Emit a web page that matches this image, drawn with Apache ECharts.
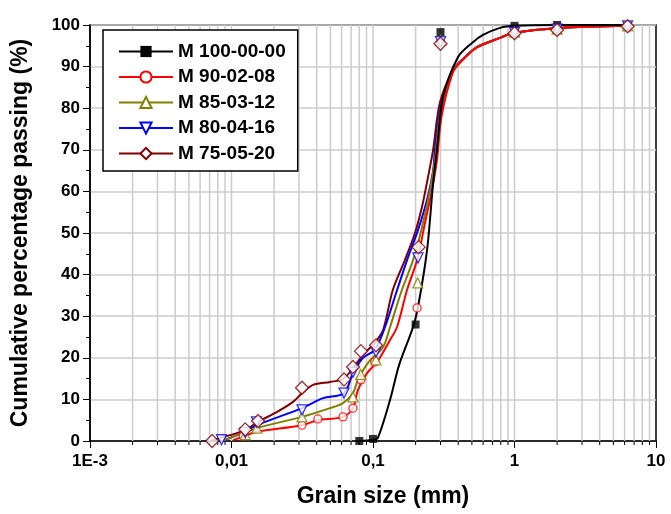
<!DOCTYPE html>
<html>
<head>
<meta charset="utf-8">
<script src="https://cdn.jsdelivr.net/npm/echarts@6/dist/echarts.min.js"></script>
<style>
  html, body { margin: 0; padding: 0; background: #fff; }
  #chart { width: 671px; height: 514px; }
</style>
</head>
<body>
<div id="chart"></div>
<script>
// tick labels of the log x axis, one per decade from 1E-3 to 10
var xTickLabels = ['1E-3', '0,01', '0,1', '1', '10'];

var names = ['M 100-00-00', 'M 90-02-08', 'M 85-03-12', 'M 80-04-16', 'M 75-05-20'];
var colors = ['#000000', '#ff0000', '#808000', '#0000ff', '#800000'];

// fitted curves [grain size mm, % passing]
var curveM100 = [[0.08, 0], [0.1, 0.3], [0.108, 0.7], [0.132, 9.9], [0.153, 18.3], [0.192, 27.4], [0.208, 32.2],
  [0.241, 45.9], [0.266, 62], [0.283, 70], [0.313, 82.7], [0.399, 92.3], [0.501, 95.7], [0.599, 97.6],
  [0.79, 99.3], [1, 99.8], [2, 100], [6.3, 100]];
var curveM90 = [[0.0103, 0.2], [0.0124, 1.2], [0.0151, 2.2], [0.0315, 3.8], [0.0408, 5], [0.0614, 5.8],
  [0.0722, 7.9], [0.0783, 12.3], [0.0907, 16.3], [0.107, 19], [0.132, 24.3], [0.148, 27.4], [0.174, 36.3],
  [0.205, 43.5], [0.233, 52.4], [0.261, 60.3], [0.283, 67.5], [0.305, 78], [0.367, 88.6], [0.425, 91.4],
  [0.543, 94.6], [0.79, 96.9], [0.976, 98.1], [2.1, 99.3], [6.3, 99.8]];
var curveM85 = [[0.0086, 0], [0.0151, 3.1], [0.0315, 5.8], [0.0497, 7.9], [0.0614, 9.1], [0.0722, 11.5],
  [0.0783, 14.7], [0.0923, 18.8], [0.118, 22.6], [0.132, 27.4], [0.16, 36.3], [0.192, 43.5], [0.222, 51.4],
  [0.253, 60.3], [0.274, 67.5], [0.3, 79], [0.367, 89], [0.425, 91.5], [0.543, 94.7], [0.79, 96.9],
  [0.976, 98.1], [2.1, 99.3], [6.3, 99.8]];
var curveM80 = [[0.0086, 0], [0.0124, 2.2], [0.0151, 3.8], [0.0315, 7.9], [0.0444, 10.3], [0.0624, 11.5],
  [0.0722, 16.3], [0.085, 20], [0.103, 21.9], [0.1216, 27.4], [0.148, 36.3], [0.177, 44.2], [0.208, 50.7],
  [0.241, 58], [0.266, 65], [0.274, 70], [0.3, 80], [0.367, 89.2], [0.425, 91.6], [0.543, 94.7],
  [0.79, 96.9], [0.976, 98.1], [2.1, 99.3], [6.3, 99.8]];
var curveM75 = [[0.0071, 0], [0.0124, 2.6], [0.0154, 4.6], [0.021, 7], [0.0272, 9.4], [0.0315, 11.5],
  [0.0377, 13.5], [0.0497, 14.2], [0.0614, 14.9], [0.0722, 17.5], [0.085, 20.7], [0.103, 23.6],
  [0.118, 26.7], [0.138, 36.3], [0.168, 43.5], [0.198, 50], [0.222, 56.3], [0.245, 63.5], [0.266, 70],
  [0.297, 81.3], [0.367, 89.2], [0.425, 91.6], [0.543, 94.7], [0.79, 96.9], [0.976, 98.1], [2.1, 99.3],
  [6.3, 99.8]];

// measured points (markers)
var pointsM100 = [[0.08, 0], [0.1, 0.5], [0.2, 28], [0.3, 98.3], [1, 99.8], [2, 100], [6.3, 100]];
var pointsM90 = [[0.0121, 1.2], [0.0315, 3.8], [0.0408, 5.3], [0.0614, 5.8], [0.0722, 7.9], [0.0822, 14.7],
  [0.103, 19], [0.205, 32], [0.3, 95.8], [1, 98.4], [2, 99], [6.3, 99.8]];
var pointsM85 = [[0.0125, 1.5], [0.0151, 3.1], [0.0315, 5.8], [0.0722, 10.6], [0.082, 16], [0.105, 19.5],
  [0.207, 38], [0.3, 96.3], [1, 98.3], [2, 99], [6.3, 99.8]];
var pointsM80 = [[0.0085, 0.3], [0.0125, 2], [0.015, 4.6], [0.0315, 7.5], [0.0624, 11.5], [0.0722, 16.5],
  [0.105, 21.4], [0.208, 44], [0.3, 96], [1, 98.2], [2, 99], [6.3, 99.8]];
var pointsM75 = [[0.0073, 0], [0.0125, 2.8], [0.0154, 4.8], [0.0315, 12.8], [0.0624, 14.8], [0.0722, 17.8],
  [0.0822, 21.6], [0.105, 23], [0.21, 46.6], [0.3, 95.5], [1, 98], [2, 98.8], [6.3, 99.7]];

var curves = [curveM100, curveM90, curveM85, curveM80, curveM75];
var points = [pointsM100, pointsM90, pointsM85, pointsM80, pointsM75];

// marker style per series: legend symbol, scatter symbol, size, rotate, filled?
var markerShapes = [
  { legend: 'rect', symbol: 'rect', size: 8, rotate: 0, filled: true },
  { legend: 'emptyCircle', symbol: 'circle', size: 8, rotate: 0, filled: false },
  { legend: 'emptyTriangle', symbol: 'triangle', size: 10, rotate: 0, filled: false },
  { legend: 'emptyTriangle', symbol: 'triangle', size: 10, rotate: 180, filled: false },
  { legend: 'emptyDiamond', symbol: 'diamond', size: 13, rotate: 0, filled: false }
];

// log grid positions k x decade (k = 1..9), plus the last decade
var logGrid = [];
for (var d = -3; d <= 0; d++) {
  for (var k = 1; k <= 9; k++) {
    logGrid.push([k * Math.pow(10, d), k]);
  }
}
logGrid.push([10, 1]);

var fontFam = 'Liberation Sans, Arial, sans-serif';

var series = [];
series.push({
  type: 'custom',
  name: 'grid',
  silent: true,
  z: 1,
  data: logGrid,
  renderItem: function (params, api) {
    var top = api.coord([api.value(0), 100]);
    var bot = api.coord([api.value(0), 0]);
    var children = [];
    if (api.value(0) > 0.0011 && api.value(0) < 9.9) {
      children.push({
        type: 'line',
        shape: { x1: top[0], y1: top[1], x2: bot[0], y2: bot[1] },
        style: { stroke: '#cccccc', lineWidth: 1.5 }
      });
    }
    if (api.value(1) !== 1) {
      children.push({
        type: 'line',
        shape: { x1: bot[0], y1: bot[1], x2: bot[0], y2: bot[1] + 4 },
        style: { stroke: '#000', lineWidth: 1 }
      });
    }
    return { type: 'group', children: children };
  }
});

for (var i = 0; i < names.length; i++) {
  var m = markerShapes[i];
  series.push({
    type: 'line',
    name: names[i],
    data: curves[i],
    smooth: 0.3,
    showSymbol: false,
    symbol: m.legend,
    symbolRotate: m.rotate,
    color: colors[i],
    lineStyle: { width: 2, color: colors[i] },
    z: 3 + (names.length - i)
  });
  series.push({
    type: 'scatter',
    name: names[i],
    data: points[i],
    symbol: m.symbol,
    symbolSize: m.size,
    symbolRotate: m.rotate,
    itemStyle: {
      color: m.filled ? colors[i] : '#fff',
      borderColor: colors[i],
      borderWidth: m.filled ? 0 : 1.3
    },
    z: 10
  });
}

var chart = echarts.init(document.getElementById('chart'));
chart.setOption({
  animation: false,
  backgroundColor: '#fff',
  grid: {
    left: 90, right: 15, top: 25, bottom: 73,
    show: true, borderColor: '#000', borderWidth: 1.5
  },
  legend: {
    data: names,
    orient: 'vertical',
    left: 103,
    top: 30,
    padding: [12, 12, 8, 15],
    itemWidth: 54,
    itemHeight: 14,
    itemGap: 6.5,
    backgroundColor: '#fff',
    borderColor: '#000',
    borderWidth: 1.5,
    textStyle: { fontFamily: fontFam, fontWeight: 'bold', fontSize: 19, color: '#000' }
  },
  xAxis: {
    type: 'log',
    logBase: 10,
    min: 0.001,
    max: 10,
    name: 'Grain size (mm)',
    nameLocation: 'middle',
    nameGap: 44,
    nameTextStyle: { fontFamily: fontFam, fontWeight: 'bold', fontSize: 23, color: '#000', padding: [0, 0, 0, 20] },
    axisLine: { lineStyle: { color: '#000', width: 1.5 } },
    axisTick: { show: true, length: 7, lineStyle: { color: '#000' } },
    splitLine: { show: false },
    axisLabel: {
      fontFamily: fontFam, fontWeight: 'bold', fontSize: 17, color: '#000', margin: 12,
      formatter: function (v) {
        return xTickLabels[Math.round(Math.log10(v)) + 3];
      }
    }
  },
  yAxis: {
    type: 'value',
    min: 0,
    max: 100,
    interval: 10,
    name: 'Cumulative percentage passing (%)',
    nameLocation: 'middle',
    nameGap: 58,
    nameTextStyle: { fontFamily: fontFam, fontWeight: 'bold', fontSize: 23, color: '#000' },
    axisLine: { show: true, lineStyle: { color: '#000', width: 1.5 } },
    axisTick: { show: true, length: 7, lineStyle: { color: '#000' } },
    minorTick: { show: true, splitNumber: 2, length: 4, lineStyle: { color: '#000' } },
    splitLine: { show: true, lineStyle: { color: '#cccccc', width: 1.5 } },
    axisLabel: { fontFamily: fontFam, fontWeight: 'bold', fontSize: 17, color: '#000', margin: 10 }
  },
  series: series
});
</script>
</body>
</html>
